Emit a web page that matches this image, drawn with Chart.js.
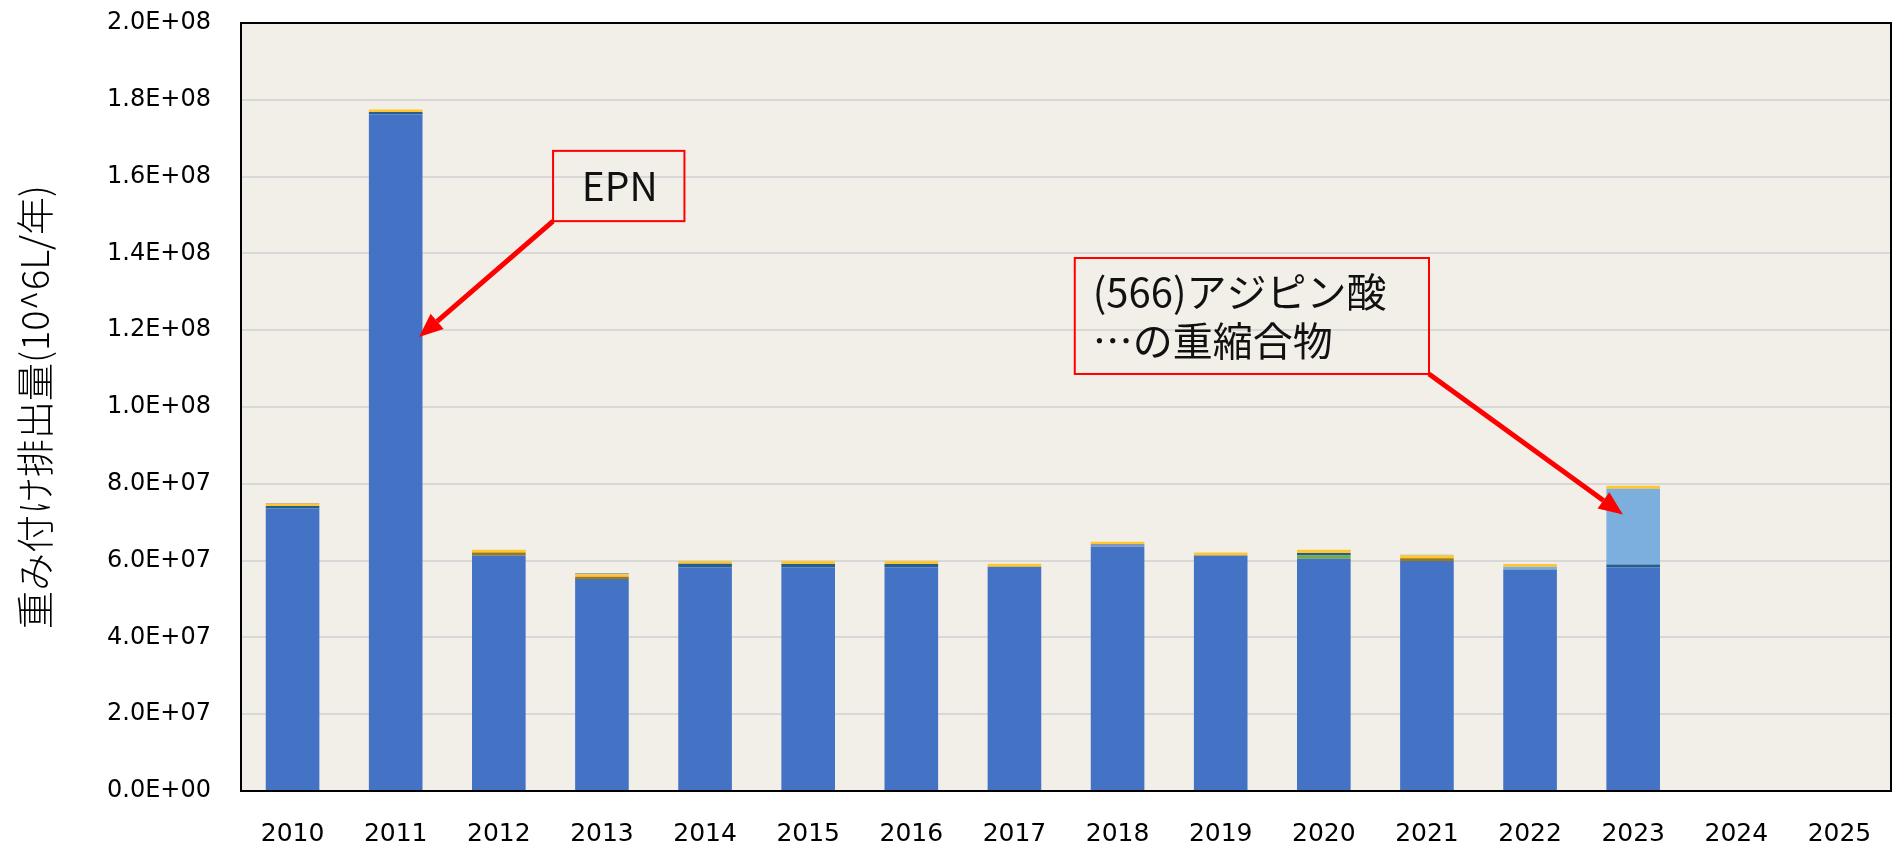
<!DOCTYPE html>
<html>
<head>
<meta charset="utf-8">
<script src="https://cdn.jsdelivr.net/npm/chart.js@4/dist/chart.umd.min.js"></script>
<style>
  html, body { margin: 0; padding: 0; background: #fff; }
  #wrap { width: 1893px; height: 850px; position: relative; }
</style>
</head>
<body>
<div id="wrap"><canvas id="emissionChart"></canvas></div>
<script>
// 年 (横軸)
const years = ['2010', '2011', '2012', '2013', '2014', '2015', '2016', '2017',
  '2018', '2019', '2020', '2021', '2022', '2023', '2024', '2025'];

// 各系列 (単位: 10^6 L/年 の値を 1e6 で割ったもの)
const mainSeries  = [73.6, 176.2, 61.3, 55.2, 58.3, 58.3, 58.3, 58.4, 63.6, 61.3, 60.5, 59.9, 57.7, 58.3, null, null];
const greenSeries = [0, 0, 0, 0, 0, 0, 0, 0, 0, 0, 0.8, 0, 0, 0, null, null];
const brownSeries = [0, 0, 0.8, 0.6, 0, 0, 0, 0, 0, 0, 0, 0.7, 0, 0, null, null];
const tealSeries  = [0.6, 0.6, 0, 0, 0.9, 0.8, 0.8, 0, 0, 0, 0.7, 0, 0, 0.7, null, null];
const adipicSeries = [0, 0, 0, 0, 0, 0, 0, 0, 0, 0, 0, 0, 0.7, 19.7, null, null];
const slateSeries = [0, 0, 0, 0, 0, 0, 0, 0, 0.7, 0, 0, 0, 0, 0, null, null];
const yellowSeries = [0.6, 0.7, 0.7, 0.6, 0.7, 0.8, 0.8, 0.8, 0.6, 0.8, 0.8, 0.7, 0.7, 0.8, null, null];
const graySeries  = [0.2, 0, 0, 0.4, 0, 0, 0, 0, 0, 0, 0, 0.2, 0, 0, null, null];

const yTicks = [0, 2e7, 4e7, 6e7, 8e7, 1e8, 1.2e8, 1.4e8, 1.6e8, 1.8e8, 2e8];

const scaleUp = arr => arr.map(v => v === null ? null : v * 1e6);

// 注釈 (x はカテゴリ番号, y は値)
const callouts = [
  { lines: ['EPN'], box: [2.526, 3.80, 166.7e6, 148.4e6], align: 'center', size: 39,
    from: 'bl', tip: [1.226, 118.2e6] },
  { lines: ['(566)アジピン酸', '…の重縮合物'], box: [7.585, 11.02, 138.8e6, 108.6e6], align: 'left', size: 40,
    from: 'br', tip: [12.90, 72.0e6] }
];

const fmtSci = v => {
  if (v === 0) return '0.0E+00';
  const exp = Math.floor(Math.log10(Math.abs(v)) + 1e-9);
  const mant = v / Math.pow(10, exp);
  return mant.toFixed(1) + 'E+' + String(exp).padStart(2, '0');
};

const plotBg = {
  id: 'plotBg',
  beforeDraw(chart) {
    const { ctx, chartArea: a } = chart;
    ctx.save();
    ctx.fillStyle = '#ffffff';
    ctx.fillRect(0, 0, chart.width, chart.height);
    ctx.fillStyle = '#F2EFE9';
    ctx.fillRect(a.left, a.top, a.right - a.left, a.bottom - a.top);
    ctx.restore();
  },
  afterDatasetsDraw(chart) {
    const { ctx, chartArea: a } = chart;
    ctx.save();
    ctx.strokeStyle = '#000';
    ctx.lineWidth = 2;
    ctx.strokeRect(a.left, a.top, a.right - a.left, a.bottom - a.top);
    ctx.restore();
  }
};

const drawArrow = (ctx, x1, y1, x2, y2) => {
  const ang = Math.atan2(y2 - y1, x2 - x1);
  const headLen = 24, headW = 10;
  const bx = x2 - headLen * Math.cos(ang), by = y2 - headLen * Math.sin(ang);
  ctx.beginPath();
  ctx.moveTo(x1, y1);
  ctx.lineTo(bx, by);
  ctx.stroke();
  ctx.beginPath();
  ctx.moveTo(x2, y2);
  ctx.lineTo(bx + headW * Math.sin(ang), by - headW * Math.cos(ang));
  ctx.lineTo(bx - headW * Math.sin(ang), by + headW * Math.cos(ang));
  ctx.closePath();
  ctx.fill();
};

const calloutPlugin = {
  id: 'callouts',
  afterDraw(chart) {
    const { ctx, scales: { x, y } } = chart;
    ctx.save();
    callouts.forEach(c => {
      const l = x.getPixelForValue(c.box[0]), r = x.getPixelForValue(c.box[1]);
      const t = y.getPixelForValue(c.box[2]), b = y.getPixelForValue(c.box[3]);
      ctx.strokeStyle = '#FF0000';
      ctx.lineWidth = 2;
      ctx.strokeRect(l, t, r - l, b - t);

      ctx.fillStyle = '#111';
      ctx.font = c.size + 'px "Noto Sans CJK JP", "Noto Sans", sans-serif';
      ctx.textBaseline = 'middle';
      const lh = 49;
      const startY = (t + b) / 2 - (c.lines.length - 1) * lh / 2;
      c.lines.forEach((txt, i) => {
        if (c.align === 'center') {
          ctx.textAlign = 'center';
          ctx.fillText(txt, (l + r) / 2 + 1, startY + i * lh);
        } else {
          ctx.textAlign = 'left';
          ctx.fillText(txt, l + 18, startY + i * lh);
        }
      });

      const sx = c.from === 'bl' ? l : r;
      ctx.strokeStyle = '#FF0000';
      ctx.fillStyle = '#FF0000';
      ctx.lineWidth = 5;
      drawArrow(ctx, sx, b, x.getPixelForValue(c.tip[0]), y.getPixelForValue(c.tip[1]));
    });
    ctx.restore();
  }
};

const mkSet = (label, data, color) => ({
  label, data: scaleUp(data), backgroundColor: color, borderWidth: 0,
  stack: 'total', barPercentage: 0.52, categoryPercentage: 1.0
});

new Chart(document.getElementById('emissionChart'), {
  type: 'bar',
  data: {
    labels: years,
    datasets: [
      mkSet('主成分', mainSeries, '#4472C4'),
      mkSet('系列2', greenSeries, '#70AD47'),
      mkSet('系列3', brownSeries, '#9C7A10'),
      mkSet('系列4', tealSeries, '#255E91'),
      mkSet('(566)アジピン酸…の重縮合物', adipicSeries, '#7CAFDD'),
      mkSet('系列6', slateSeries, '#7F95BE'),
      mkSet('系列7', yellowSeries, '#FFC72C'),
      mkSet('系列8', graySeries, '#A5A5A5')
    ]
  },
  options: {
    responsive: true,
    maintainAspectRatio: false,
    animation: false,
    layout: { padding: { top: 23, right: 2, left: 0, bottom: 0 } },
    plugins: {
      legend: { display: false },
      tooltip: { enabled: false }
    },
    scales: {
      x: {
        stacked: true,
        offset: true,
        grid: { display: false, drawTicks: false },
        border: { display: false },
        ticks: {
          color: '#000',
          padding: 28,
          maxRotation: 0,
          font: { family: '"DejaVu Sans", Verdana, sans-serif', size: 25 }
        },
        afterFit: s => { s.height = 59; s.paddingLeft = 0; s.paddingRight = 0; }
      },
      y: {
        stacked: true,
        min: 0,
        max: 2e8,
        afterBuildTicks: s => { s.ticks = yTicks.map(v => ({ value: v })); },
        grid: { color: '#D8D8D8', lineWidth: 2, drawTicks: false },
        border: { display: false },
        ticks: {
          color: '#000',
          padding: 30,
          font: { family: '"DejaVu Sans", Verdana, sans-serif', size: 24 },
          callback: v => fmtSci(v)
        },
        title: {
          display: true,
          text: '重み付け排出量(10^6L/年)',
          color: '#000',
          padding: { top: 12, bottom: 0 },
          font: { family: '"Noto Sans CJK JP", sans-serif', size: 38, weight: '300' }
        },
        afterFit: s => { s.width = 241; s.paddingTop = 0; s.paddingBottom = 0; }
      }
    }
  },
  plugins: [plotBg, calloutPlugin]
});
</script>
</body>
</html>
